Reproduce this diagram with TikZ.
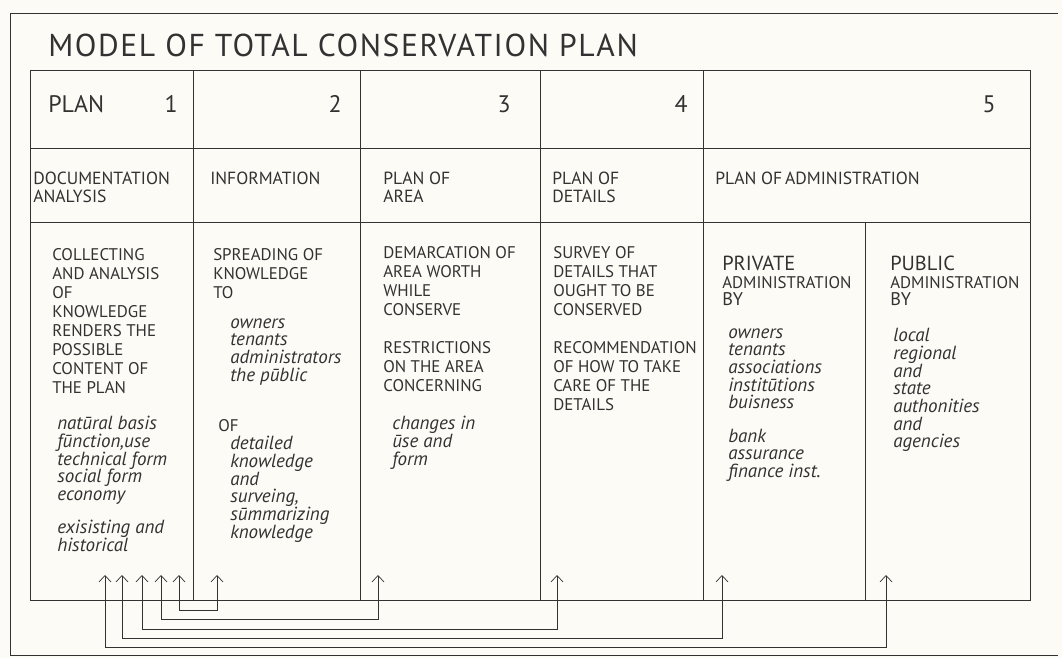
\documentclass[tikz,border=0pt]{standalone}
\usepackage{fontspec}
\setmainfont{PT Sans}
\usepackage{tikz}
\usetikzlibrary{positioning}
\usetikzlibrary{arrows.meta}
\usepackage{xcolor}
\definecolor{paper}{RGB}{252,251,246}
\definecolor{ink}{RGB}{50,50,50}

\begin{document}
\begin{tikzpicture}[
  x=0.025cm, y=-0.025cm,
  rule/.style={draw=ink, line width=0.5pt},
  block/.style={anchor=north west, align=left, inner sep=0pt, text=ink, execute at begin node={\strut}},
  caps/.style={block, font=\fontsize{12}{13.5}\selectfont},
  head/.style={block, font=\fontsize{12.5}{12.8}\selectfont},
  hand/.style={block, font=\fontsize{13.5}{12.6}\selectfont\itshape},
  admin/.style={block, font=\fontsize{14.5}{12.5}\selectfont},
  num/.style={anchor=base east, inner sep=0pt, text=ink, font=\fontsize{17}{20}\selectfont},
  link/.style={draw=ink, line width=0.5pt, {Straight Barb[length=1.6mm,width=3mm]}-{Straight Barb[length=1.6mm,width=3mm]}}
]

% --- Paper and outer frame ----------------------------------------------------
\fill[paper] (0,0) rectangle (1062,658);
\draw[rule] (1058,13) -- (10,13) -- (10,655) -- (1058,655);

\node[anchor=base west, inner sep=0pt, text=ink, font=\fontsize{22.5}{24}\selectfont\addfontfeature{LetterSpace=5}]
  (title) at (48,56) {MODEL OF TOTAL CONSERVATION PLAN};

% --- Table grid -----------------------------------------------------------------
\draw[rule] (30,70) rectangle (1030,600);
\draw[rule] (30,148) -- (1030,148);
\draw[rule] (30,222) -- (1030,222);
\foreach \x in {193,360,540,703} \draw[rule] (\x,70) -- (\x,600);
\draw[rule] (865,222) -- (865,600);

% --- Row 1: plan numbers ----------------------------------------------------------
\node[num, anchor=base west] (plan) at (48,112) {PLAN};
\node[num] (n1) at (178,112) {1};
\node[num] (n2) at (342,112) {2};
\node[num] (n3) at (511,112) {3};
\node[num] (n4) at (688,112) {4};
\node[num] (n5) at (996,112) {5};

% --- Row 2: plan titles -----------------------------------------------------------
\node[head] (doc) at (33,172) {DOCUMENTATION\\ANALYSIS};
\node[head] (inform) at (210,172) {INFORMATION};
\node[head] (area) at (383,172) {PLAN OF\\AREA};
\node[head] (det) at (552,172) {PLAN OF\\DETAILS};
\node[head] (adm) at (715,172) {PLAN OF\,ADMINISTRATION};

% --- Row 3: contents --------------------------------------------------------------
% 1 documentation
\node[caps] (collect) at (52,248)
{COLLECTING\\AND ANALYSIS\\OF\\KNOWLEDGE\\RENDERS THE\\POSSIBLE\\CONTENT OF\\THE PLAN};
\node[hand] (basis) at (57,416)
{natūral basis\\fūnction,use\\technical form\\social form\\economy\\[11pt]exisisting and\\historical};

% 2 information
\node[caps] (spread) at (213,248) {SPREADING OF\\KNOWLEDGE\\TO};
\node[hand] (towhom) at (230,318) {owners\\tenants\\administrators\\the pūblic};
\node[caps] (ofknow) at (218,418) {OF};
\node[hand] (detail) at (230,436)
{detailed\\knowledge\\and\\surveing,\\sūmmarizing\\knowledge};

% 3 area
\node[caps] (demarc) at (383,246) {DEMARCATION OF\\AREA WORTH\\WHILE\\CONSERVE};
\node[caps] (restrict) at (383,341) {RESTRICTIONS\\ON THE AREA\\CONCERNING};
\node[hand] (changes) at (392,416) {changes in\\ūse and\\form};

% 4 details
\node[caps] (survey) at (553,246) {SURVEY OF\\DETAILS THAT\\OUGHT TO BE\\CONSERVED};
\node[caps] (recommend) at (553,341) {RECOMMENDATION\\OF HOW TO TAKE\\CARE OF THE\\DETAILS};

% 5 administration
\node[admin] (private) at (722,256)
{PRIVATE\\{\fontsize{12}{12.5}\selectfont ADMINISTRATION}\\{\fontsize{13}{12.5}\selectfont BY}};
\node[hand] (privby) at (728,328)
{owners\\tenants\\associations\\institūtions\\buisness\\[11pt]bank\\assurance\\finance inst.};
\node[admin] (public) at (890,256)
{PUBLIC\\{\fontsize{12}{12.5}\selectfont ADMINISTRATION}\\{\fontsize{13}{12.5}\selectfont BY}};
\node[hand] (pubby) at (893,328)
{local\\regional\\and\\state\\authonities\\and\\agencies};

% --- Feedback links ---------------------------------------------------------------
\coordinate (doc1) at (105,575);
\coordinate (doc2) at (122,575);
\coordinate (doc3) at (142,575);
\coordinate (doc4) at (161,575);
\coordinate (doc5) at (179,575);
\coordinate (info) at (217,575);
\coordinate (areaend) at (378,575);
\coordinate (detend) at (557,575);
\coordinate (priv) at (722,575);
\coordinate (pub) at (886,575);

\foreach \a/\b/\d in {doc5/info/35, doc4/areaend/44, doc3/detend/54, doc2/priv/63, doc1/pub/72}
  \draw[link] (\a) -- ++(0,\d) -| (\b);

\end{tikzpicture}
\end{document}
